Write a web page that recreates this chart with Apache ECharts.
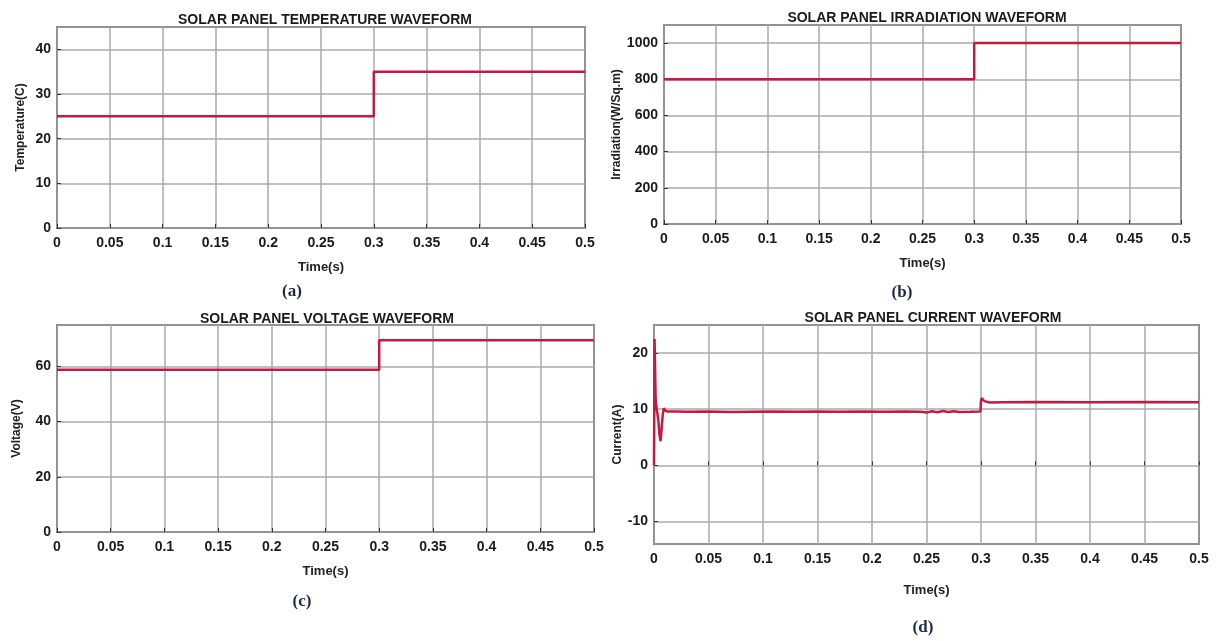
<!DOCTYPE html>
<html>
<head>
<meta charset="utf-8">
<title>Solar panel waveforms</title>
<script src="https://cdn.jsdelivr.net/npm/echarts@6/dist/echarts.min.js"></script>
<style>
  html, body { margin: 0; padding: 0; background: #fff; }
  #chart { width: 1219px; height: 641px; }
</style>
</head>
<body>
<div id="chart"></div>
<script>
// time axis ticks (s)
const timeTicks = [0, 0.05, 0.1, 0.15, 0.2, 0.25, 0.3, 0.35, 0.4, 0.45, 0.5];

// (a) temperature step
const tempTime = [0, 0.3, 0.3, 0.5];
const tempValue = [25, 25, 35, 35];

// (b) irradiation step
const irrTime = [0, 0.3, 0.3, 0.5];
const irrValue = [800, 800, 1000, 1000];

// (c) voltage step
const voltTime = [0, 0.3, 0.3, 0.5];
const voltValue = [58.8, 58.8, 69.5, 69.5];

// (d) current
const currTime = [0, 0.0005, 0.001, 0.0015, 0.002, 0.003, 0.004, 0.005, 0.006, 0.007, 0.008, 0.009, 0.010, 0.012,
  0.02, 0.03, 0.05, 0.07, 0.09, 0.11, 0.13, 0.15, 0.17, 0.19, 0.21, 0.23, 0.245, 0.25, 0.255, 0.26, 0.265,
  0.27, 0.275, 0.28, 0.29, 0.2995, 0.3, 0.301, 0.302, 0.304, 0.308, 0.32, 0.35, 0.4, 0.45, 0.5];
const currValue = [0, 22.5, 22.3, 12, 10.8, 10.5, 8, 5.5, 4.3, 6.5, 9, 10.2, 9.8, 9.6,
  9.6, 9.55, 9.6, 9.5, 9.55, 9.6, 9.55, 9.6, 9.55, 9.6, 9.55, 9.6, 9.55, 9.4, 9.65, 9.45, 9.7,
  9.5, 9.65, 9.5, 9.55, 9.6, 11.6, 12.0, 11.6, 11.4, 11.2, 11.25, 11.3, 11.25, 11.3, 11.25];

const panelTitles = [
  'SOLAR PANEL TEMPERATURE WAVEFORM',
  'SOLAR PANEL IRRADIATION WAVEFORM',
  'SOLAR PANEL VOLTAGE WAVEFORM',
  'SOLAR PANEL CURRENT WAVEFORM'
];
const yNames = ['Temperature(C)', 'Irradiation(W/Sq.m)', 'Voltage(V)', 'Current(A)'];
const captions = ['(a)', '(b)', '(c)', '(d)'];

const lineColor = '#c41a40';
const font = "'Liberation Sans', Arial, sans-serif";

const zip = (xs, ys) => xs.map((x, i) => [x, ys[i]]);

const grids = [
  { left: 57, right: 634, top: 27, height: 201 },
  { left: 664, right: 38, top: 25, height: 199 },
  { left: 57, right: 625, top: 325, height: 207 },
  { left: 654, right: 20, top: 325, height: 219 }
].map(g => Object.assign(g, {
  show: true,
  borderColor: '#1a1a1a',
  borderWidth: 1.5,
  backgroundColor: '#fff'
}));

const xAxes = grids.map((g, i) => ({
  type: 'value',
  gridIndex: i,
  min: timeTicks[0],
  max: timeTicks[timeTicks.length - 1],
  interval: 0.05,
  name: 'Time(s)',
  nameLocation: 'middle',
  nameGap: i === 3 ? 40 : 33,
  nameTextStyle: { color: '#222', fontWeight: 'bold', fontSize: 13, fontFamily: font },
  axisLine: { show: false },
  axisTick: { show: true, inside: true, length: 4, lineStyle: { color: '#333' } },
  axisLabel: {
    color: '#1a1a1a', fontWeight: 'bold', fontSize: 14, fontFamily: font, margin: 8,
    formatter: v => String(+v.toFixed(2))
  },
  splitLine: { show: true, lineStyle: { color: '#aaaaaa', width: 1.5 } }
}));

const yCfg = [
  { min: 0, max: 45, interval: 10, gap: 30 },
  { min: 0, max: 1100, interval: 200, gap: 37 },
  { min: 0, max: 75, interval: 20, gap: 34 },
  { min: -14, max: 25, splitNumber: 4, gap: 28 }
];

const yAxes = yCfg.map((c, i) => ({
  type: 'value',
  gridIndex: i,
  min: c.min,
  max: c.max,
  interval: c.interval,
  splitNumber: c.splitNumber,
  name: yNames[i],
  nameLocation: 'middle',
  nameGap: c.gap,
  nameRotate: 90,
  nameTextStyle: { color: '#222', fontWeight: 'bold', fontSize: 12, fontFamily: font },
  axisLine: { show: false },
  axisTick: { show: true, inside: true, length: 4, lineStyle: { color: '#333' } },
  axisLabel: {
    color: '#1a1a1a', fontWeight: 'bold', fontSize: 14, fontFamily: font, margin: 6,
    showMinLabel: i !== 3, showMaxLabel: false,
    formatter: v => String(v)
  },
  splitLine: { show: true, lineStyle: { color: '#aaaaaa', width: 1.5 } }
}));

const seriesData = [
  zip(tempTime, tempValue),
  zip(irrTime, irrValue),
  zip(voltTime, voltValue),
  zip(currTime, currValue)
];

const series = seriesData.map((d, i) => ({
  type: 'line',
  xAxisIndex: i,
  yAxisIndex: i,
  data: d,
  showSymbol: false,
  animation: false,
  lineStyle: { color: lineColor, width: 2.5 }
}));

const titleCenters = [[320, 8], [922, 6], [322, 307], [928, 306]];
const captionCenters = [[287, 278], [897, 279], [297, 588], [918, 614]];

const titles = panelTitles.map((t, i) => ({
  text: t,
  left: titleCenters[i][0],
  top: titleCenters[i][1],
  textAlign: 'center',
  textStyle: { color: '#1a1a1a', fontWeight: 'bold', fontSize: 14, fontFamily: font }
})).concat(captions.map((t, i) => ({
  text: t,
  left: captionCenters[i][0],
  top: captionCenters[i][1],
  textAlign: 'center',
  textStyle: { color: '#1f2a4a', fontWeight: 'bold', fontSize: 17, fontFamily: "'Liberation Serif', 'DejaVu Serif', serif" }
})));

const myChart = echarts.init(document.getElementById('chart'));
myChart.setOption({
  animation: false,
  backgroundColor: '#fff',
  title: titles,
  grid: grids,
  xAxis: xAxes,
  yAxis: yAxes,
  series: series
});
</script>
</body>
</html>
